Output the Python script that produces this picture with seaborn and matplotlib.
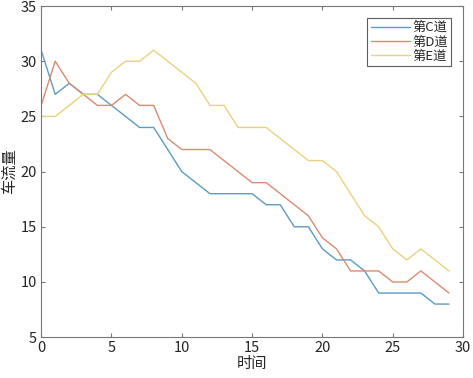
import numpy as np
import pandas as pd
import seaborn as sns
import matplotlib.pyplot as plt

# 数据
time = list(range(30))
lane_c = [31, 27, 28, 27, 27, 26, 25, 24, 24, 22, 20, 19, 18, 18, 18,
          18, 17, 17, 15, 15, 13, 12, 12, 11, 9, 9, 9, 9, 8, 8]
lane_d = [26, 30, 28, 27, 26, 26, 27, 26, 26, 23, 22, 22, 22, 21, 20,
          19, 19, 18, 17, 16, 14, 13, 11, 11, 11, 10, 10, 11, 10, 9]
lane_e = [25, 25, 26, 27, 27, 29, 30, 30, 31, 30, 29, 28, 26, 26, 24,
          24, 24, 23, 22, 21, 21, 20, 18, 16, 15, 13, 12, 13, 12, 11]
names = ['第C道', '第D道', '第E道']
colors = ['#5A9CC2', '#D98B6E', '#E9D27E']

df = pd.DataFrame({'时间': time * 3,
                   '车流量': lane_c + lane_d + lane_e,
                   '车道': np.repeat(names, len(time))})

sns.set_style('ticks')
plt.rcParams['font.family'] = ['Noto Sans CJK SC', 'DejaVu Sans']

fig = plt.figure(figsize=(4.73, 3.78), dpi=100)
ax = fig.add_axes([0.087, 0.108, 0.892, 0.876])

sns.lineplot(data=df, x='时间', y='车流量', hue='车道', palette=colors,
             linewidth=1.0, ax=ax)

ax.set_xlim(0, 30)
ax.set_ylim(5, 35)
ax.set_xticks(range(0, 31, 5))
ax.set_yticks(range(5, 36, 5))
ax.tick_params(direction='in', top=True, right=True, length=3,
               color='#777777', labelsize=10.5, pad=3)
for s in ax.spines.values():
    s.set_color('#777777')
    s.set_linewidth(0.8)
ax.set_xlabel('时间', fontsize=11, labelpad=0)
ax.set_ylabel('车流量', fontsize=11, labelpad=2)

leg = ax.legend(loc='upper right', fontsize=9.5, frameon=True, fancybox=False,
                edgecolor='#333333', handlelength=3.0, handletextpad=0.15,
                borderpad=0.25, labelspacing=0.1, borderaxespad=0,
                bbox_to_anchor=(0.972, 0.964))
leg.get_frame().set_linewidth(0.8)

fig.savefig('out.png', dpi=100)
